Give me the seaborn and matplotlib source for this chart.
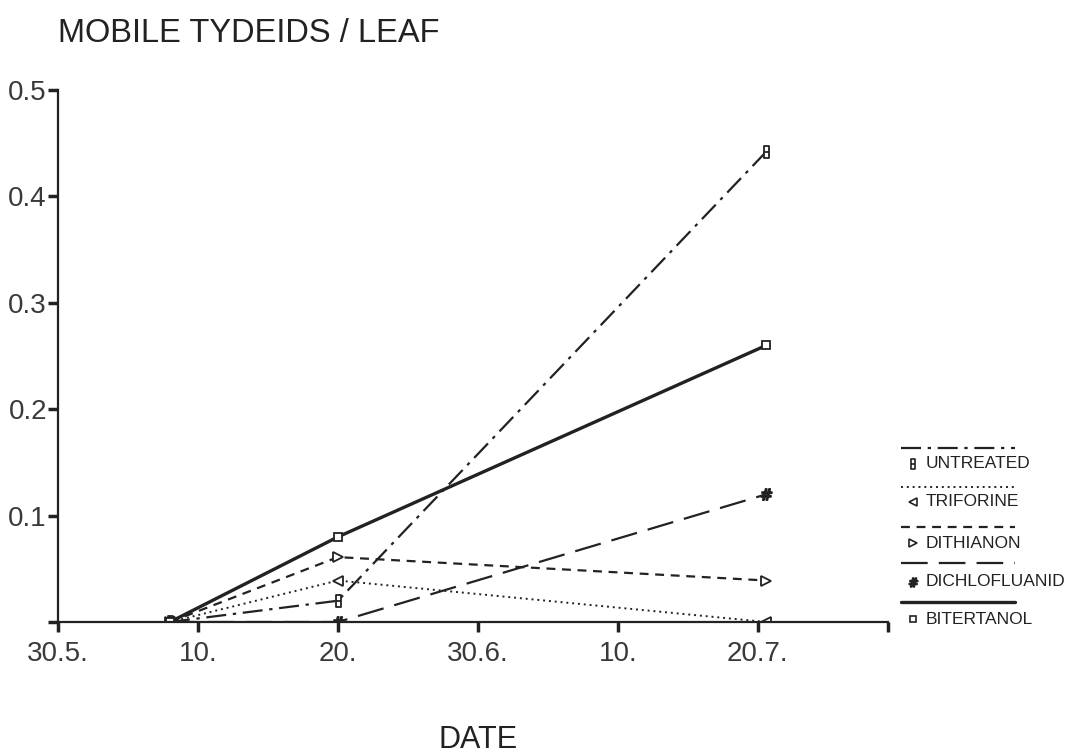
import numpy as np
import pandas as pd
import seaborn as sns
import matplotlib.pyplot as plt
from matplotlib.lines import Line2D
from matplotlib.path import Path

# days counted from 30 May (one axis tick every 10 days)
days = [8, 20, 50.6]
untreated = [0.0, 0.020, 0.442]
triforine = [0.0, 0.039, 0.0]
dithianon = [0.0, 0.061, 0.039]
dichlofluanid = [0.0, 0.0, 0.120]
bitertanol = [0.0, 0.080, 0.260]

treatments = ['UNTREATED', 'TRIFORINE', 'DITHIANON', 'DICHLOFLUANID', 'BITERTANOL']
tick_days = [0, 10, 20, 30, 40, 50]
tick_labels = ['30.5.', '10.', '20.', '30.6.', '10.', '20.7.']
y_ticks = [0.1, 0.2, 0.3, 0.4, 0.5]

df = pd.DataFrame({
    'day': days * 5,
    'mites': untreated + triforine + dithianon + dichlofluanid + bitertanol,
    'treatment': np.repeat(treatments, len(days)),
})

sns.set_style('ticks')
plt.rcParams['font.family'] = ['Liberation Sans', 'DejaVu Sans']

# narrow bar marker for the untreated series
bar_marker = Path([(-0.4, -1), (0.4, -1), (0.4, 1), (-0.4, 1), (-0.4, -1), (-0.4, 0), (0.4, 0)],
                  [Path.MOVETO, Path.LINETO, Path.LINETO, Path.LINETO, Path.CLOSEPOLY,
                   Path.MOVETO, Path.LINETO])

ink = '#222222'
styles = {
    'UNTREATED': dict(ls=(0, (9, 3, 1.5, 3)), lw=1.6, marker=bar_marker, ms=9),
    'TRIFORINE': dict(ls=(0, (1, 2)), lw=1.4, marker='<', ms=7),
    'DITHIANON': dict(ls=(0, (4, 3)), lw=1.6, marker='>', ms=7),
    'DICHLOFLUANID': dict(ls=(0, (12, 5)), lw=1.6, marker='$\\#$', ms=8),
    'BITERTANOL': dict(ls='-', lw=2.4, marker='s', ms=6),
}

fig = plt.figure(figsize=(10.7, 7.53), dpi=100)
ax = fig.add_axes([58 / 1070, 1 - 622 / 753, 830 / 1070, 532 / 753])

for name in treatments:
    st = styles[name]
    sub = df[df['treatment'] == name]
    sns.lineplot(data=sub, x='day', y='mites', ax=ax, color=ink,
                 linestyle=st['ls'], linewidth=st['lw'], marker=st['marker'],
                 markersize=st['ms'], markerfacecolor='white', markeredgecolor=ink,
                 markeredgewidth=1.3, legend=False)

ax.set_xlim(0, 59.3)
ax.set_ylim(0, 0.5)
ax.set_xticks(tick_days + [59.3])
ax.set_xticklabels(tick_labels + [''], fontsize=20)
ax.set_yticks([0] + y_ticks)
ax.set_yticklabels([''] + [str(v) for v in y_ticks], fontsize=20)
ax.tick_params(axis='both', direction='out', length=7, width=2.5, color=ink, labelcolor='#3a3a3a')
ax.tick_params(axis='x', pad=7)
ax.tick_params(axis='y', pad=1)
sns.despine(ax=ax)
for side in ['left', 'bottom']:
    ax.spines[side].set_linewidth(1.6)
    ax.spines[side].set_color(ink)
ax.set_ylabel('')
ax.set_xlabel('')

fig.text(478 / 1070, 1 - 740 / 753, 'DATE', fontsize=22, va='center', ha='center', color='#222222')
fig.text(58 / 1070, 1 - 33 / 753, 'MOBILE TYDEIDS / LEAF', fontsize=23.5, va='center', ha='left', color='#222222')

# legend: line sample above, marker + name below
line_y = [448, 487, 527, 563, 602]
text_y = [464, 502, 543, 582, 619]
for name, ly, ty in zip(treatments, line_y, text_y):
    st = styles[name]
    fig.add_artist(Line2D([901 / 1070, 1015 / 1070], [1 - ly / 753, 1 - ly / 753],
                          transform=fig.transFigure, color=ink, linestyle=st['ls'], linewidth=st['lw']))
    fig.add_artist(Line2D([913 / 1070], [1 - ty / 753], transform=fig.transFigure,
                          marker=st['marker'], markersize=st['ms'] * 0.8, markerfacecolor='white',
                          markeredgecolor=ink, markeredgewidth=1.2, linestyle='none'))
    fig.text(926 / 1070, 1 - ty / 753, name, fontsize=12.5, va='center', ha='left', color='#222222')

fig.savefig('out.png', dpi=100)
